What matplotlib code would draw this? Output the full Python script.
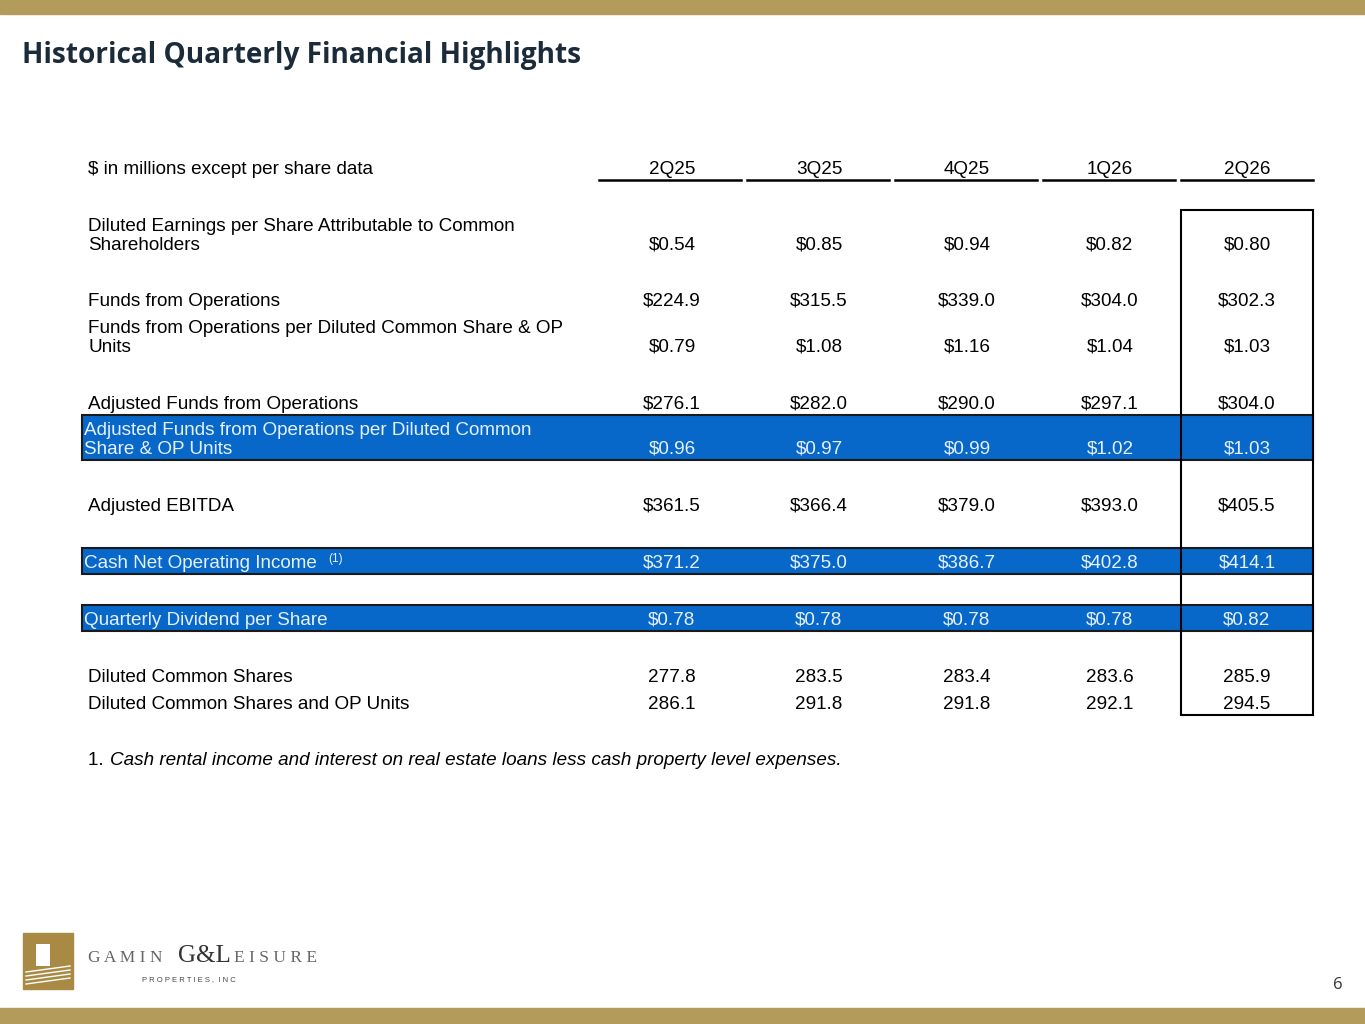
import matplotlib
matplotlib.use("Agg")
import matplotlib.pyplot as plt
from matplotlib.patches import Rectangle

periods = ["2Q25", "3Q25", "4Q25", "1Q26", "2Q26"]
row_labels = [
    "Diluted Earnings per Share Attributable to Common\nShareholders",
    "Funds from Operations",
    "Funds from Operations per Diluted Common Share & OP\nUnits",
    "Adjusted Funds from Operations",
    "Adjusted Funds from Operations per Diluted Common\nShare & OP Units",
    "Adjusted EBITDA",
    "Cash Net Operating Income",
    "Quarterly Dividend per Share",
    "Diluted Common Shares",
    "Diluted Common Shares and OP Units",
]
row_values = [
    ["$0.54", "$0.85", "$0.94", "$0.82", "$0.80"],
    ["$224.9", "$315.5", "$339.0", "$304.0", "$302.3"],
    ["$0.79", "$1.08", "$1.16", "$1.04", "$1.03"],
    ["$276.1", "$282.0", "$290.0", "$297.1", "$304.0"],
    ["$0.96", "$0.97", "$0.99", "$1.02", "$1.03"],
    ["$361.5", "$366.4", "$379.0", "$393.0", "$405.5"],
    ["$371.2", "$375.0", "$386.7", "$402.8", "$414.1"],
    ["$0.78", "$0.78", "$0.78", "$0.78", "$0.82"],
    ["277.8", "283.5", "283.4", "283.6", "285.9"],
    ["286.1", "291.8", "291.8", "292.1", "294.5"],
]
highlight = [False, False, False, False, True, False, True, True, False, False]

row_y = [243, 299, 345, 402, 447, 504, 561, 618, 675, 702]
band = {4: (415, 460), 6: (548, 574), 7: (605, 631)}
col_x = [672, 819, 967, 1110, 1247]
col_span = [(599, 741), (747, 889), (895, 1037), (1043, 1175), (1181, 1313)]
LS = 18.5
BO = 6.8
FS = 13.6

fig = plt.figure(figsize=(13.65, 10.24), dpi=100)
ax = fig.add_axes([0, 0, 1, 1])
ax.set_xlim(0, 1365); ax.set_ylim(1024, 0); ax.axis("off")
F = ["Liberation Sans", "DejaVu Sans"]
gold = "#B39B5C"

def t(x, yc, s, **kw):
    kw.setdefault("fontsize", FS)
    kw.setdefault("family", F)
    ax.text(x, yc + BO, s, va="baseline", **kw)

ax.add_patch(Rectangle((0, 0), 1365, 14, color=gold))
ax.add_patch(Rectangle((0, 1008), 1365, 16, color=gold))
ax.text(22, 55, "Historical Quarterly Financial Highlights", fontsize=20.2, fontweight="bold",
        color="#1C2B3A", family=["Open Sans", "DejaVu Sans"], va="center")

t(88, 167, "$ in millions except per share data")
for p, x, (a, b) in zip(periods, col_x, col_span):
    t(x, 167, p, ha="center")
    ax.plot([a, b], [180, 180], color="black", lw=1.8)

for i, (y0, y1) in band.items():
    ax.add_patch(Rectangle((82, y0), 1313 - 82, y1 - y0, facecolor="#0868C9",
                           edgecolor="#1a1a1a", lw=1.5, zorder=1))

ax.add_patch(Rectangle((1181, 210), 132, 505, fill=False, edgecolor="black", lw=1.5, zorder=3))

for i, (lab, vals) in enumerate(zip(row_labels, row_values)):
    y = row_y[i]
    tc = "#E6F0FF" if highlight[i] else "black"
    lx = 84 if highlight[i] else 88
    lines = lab.split("\n")
    for k, ln in enumerate(lines):
        t(lx, y - LS * (len(lines) - 1 - k), ln, color=tc)
    if lab.startswith("Cash Net"):
        t(328, y - 6, "(1)", color=tc, fontsize=8.5)
    for v, x in zip(vals, col_x):
        t(x, y, v, ha="center", color=tc)

t(88, 758, "1. ")
t(110, 758, "Cash rental income and interest on real estate loans less cash property level expenses.",
  style="italic")

# logo
ax.add_patch(Rectangle((23, 933), 50, 56, color="#A88A45"))
for k in range(4):
    ax.plot([26, 70], [972 + k * 4, 966 + k * 4], color="white", lw=1)
ax.add_patch(Rectangle((36, 944), 14, 22, facecolor="white", edgecolor="none"))
S = ["Liberation Serif", "DejaVu Serif"]
ax.text(88, 962, "G A M I N", fontsize=12.5, color="#666666", family=S, va="baseline")
ax.text(178, 962, "G&L", fontsize=18, color="#333333", family=S, va="baseline")
ax.text(234, 962, "E I S U R E", fontsize=12.5, color="#666666", family=S, va="baseline")
ax.text(142, 980, "P R O P E R T I E S ,  I N C", fontsize=5.5, color="#444444", family=F, va="center")
ax.text(1333, 985, "6", fontsize=12, color="#333333", family=["Open Sans"], va="center")

fig.savefig("out.png", dpi=100)
